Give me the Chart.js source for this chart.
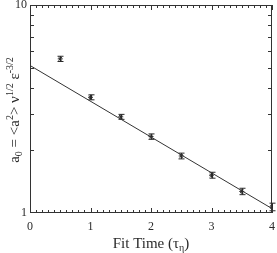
<!DOCTYPE html>
<html>
<head>
  <meta charset="UTF-8">
  <title>a0 vs Fit Time</title>
  <script src="https://cdn.jsdelivr.net/npm/chart.js"></script>
  <style>
    html, body { margin: 0; padding: 0; background: #fff; }
  </style>
</head>
<body>
  <canvas id="fitChart" width="277" height="253"></canvas>
  <script>
    // data
    const fitTimes = [0.5, 1, 1.5, 2, 2.5, 3, 3.5, 4];
    const a0Values = [5.51, 3.60, 2.90, 2.33, 1.88, 1.52, 1.27, 1.07];
    const a0Errors = [0.16, 0.10, 0.08, 0.07, 0.06, 0.05, 0.045, 0.045];
    const fitLineX = [0, 4];
    const fitLineY = [5.12, 1.05];
    const yTickLabels = [1, 10];
    const xMinorStep = 0.1;
    const yMinorTicks = [2, 3, 4, 5, 6, 7, 8, 9];

    const serif = "'Liberation Serif', 'DejaVu Serif', serif";
    const ink = '#2a2a2a';

    // error bars drawn before the markers
    const errorBars = {
      id: 'errorBars',
      beforeDatasetsDraw(chart) {
        const ctx = chart.ctx, xs = chart.scales.x, ys = chart.scales.y;
        ctx.save();
        ctx.strokeStyle = ink;
        ctx.lineWidth = 1;
        fitTimes.forEach((t, i) => {
          const px = Math.round(xs.getPixelForValue(t)) + 0.5;
          const top = ys.getPixelForValue(a0Values[i] + a0Errors[i]);
          const bot = ys.getPixelForValue(a0Values[i] - a0Errors[i]);
          ctx.beginPath();
          ctx.moveTo(px, top); ctx.lineTo(px, bot);
          ctx.moveTo(px - 3, top); ctx.lineTo(px + 3, top);
          ctx.moveTo(px - 3, bot); ctx.lineTo(px + 3, bot);
          ctx.stroke();
        });
        ctx.restore();
      }
    };

    // box frame, inward ticks and axis titles
    const frame = {
      id: 'frame',
      afterDraw(chart) {
        const ctx = chart.ctx, ca = chart.chartArea;
        const xs = chart.scales.x, ys = chart.scales.y;
        ctx.save();
        ctx.strokeStyle = '#333';
        ctx.lineWidth = 1;
        ctx.strokeRect(ca.left + 0.5, ca.top + 0.5, ca.right - ca.left - 1, ca.bottom - ca.top - 1);

        ctx.beginPath();
        for (let k = 0; k <= Math.round((xs.max - xs.min) / xMinorStep); k++) {
          const v = xs.min + k * xMinorStep;
          const px = Math.round(xs.getPixelForValue(v)) + 0.5;
          const len = (k % 10 === 0) ? 5 : 3;
          ctx.moveTo(px, ca.bottom); ctx.lineTo(px, ca.bottom - len);
          ctx.moveTo(px, ca.top); ctx.lineTo(px, ca.top + len);
        }
        yMinorTicks.forEach(v => {
          const py = Math.round(ys.getPixelForValue(v)) + 0.5;
          ctx.moveTo(ca.left, py); ctx.lineTo(ca.left + 4, py);
          ctx.moveTo(ca.right, py); ctx.lineTo(ca.right - 4, py);
        });
        ctx.stroke();

        // x title: Fit Time (τη)
        ctx.fillStyle = ink;
        ctx.textBaseline = 'alphabetic';
        const xParts = [['Fit Time (τ', 15, 0], ['η', 10, 3], [')', 15, 0]];
        drawParts(ctx, xParts, (ca.left + ca.right) / 2, 248);

        // y title, rotated: a0 = <a2> ν1/2 ε-3/2
        ctx.translate(19, (ca.top + ca.bottom) / 2 + 1);
        ctx.rotate(-Math.PI / 2);
        const yParts = [['a', 15, 0], ['0', 10, 3], [' = <a', 15, 0], ['2', 10, -6],
                        ['> ν', 15, 0], ['1/2', 10, -6], [' ε', 15, 0], ['-3/2', 10, -6]];
        drawParts(ctx, yParts, 0, 0);
        ctx.restore();
      }
    };

    function drawParts(ctx, parts, cx, baseY) {
      let total = 0;
      parts.forEach(p => { ctx.font = p[1] + 'px ' + serif; total += ctx.measureText(p[0]).width; });
      let x = cx - total / 2;
      ctx.textAlign = 'left';
      parts.forEach(p => {
        ctx.font = p[1] + 'px ' + serif;
        ctx.fillText(p[0], x, baseY + p[2]);
        x += ctx.measureText(p[0]).width;
      });
    }

    new Chart(document.getElementById('fitChart'), {
      type: 'line',
      data: {
        datasets: [
          {
            label: 'fit',
            data: fitLineX.map((t, i) => ({ x: t, y: fitLineY[i] })),
            borderColor: '#333',
            borderWidth: 1,
            pointRadius: 0,
            fill: false
          },
          {
            label: 'a0',
            data: fitTimes.map((t, i) => ({ x: t, y: a0Values[i] })),
            showLine: false,
            pointStyle: 'star',
            pointRadius: 2.5,
            borderColor: ink,
            backgroundColor: ink,
            borderWidth: 1
          }
        ]
      },
      options: {
        responsive: false,
        animation: false,
        devicePixelRatio: 1,
        layout: { padding: { top: 3, right: 3, left: 0, bottom: 0 } },
        plugins: { legend: { display: false }, tooltip: { enabled: false } },
        scales: {
          x: {
            type: 'linear', min: 0, max: 4,
            grid: { display: false, drawTicks: false },
            border: { display: false },
            ticks: { stepSize: 1, padding: 7, color: ink, font: { family: serif, size: 12 } },
            afterFit(s) { s.height = 40; s.paddingLeft = 0; s.paddingRight = 0; }
          },
          y: {
            type: 'logarithmic', min: 1, max: 10,
            grid: { display: false, drawTicks: false },
            border: { display: false },
            ticks: {
              autoSkip: false, padding: 3, color: ink, font: { family: serif, size: 12 },
              callback: v => yTickLabels.includes(v) ? String(v) : ''
            },
            afterFit(s) { s.width = 30; s.paddingTop = 0; s.paddingBottom = 0; }
          }
        }
      },
      plugins: [errorBars, frame]
    });
  </script>
</body>
</html>
